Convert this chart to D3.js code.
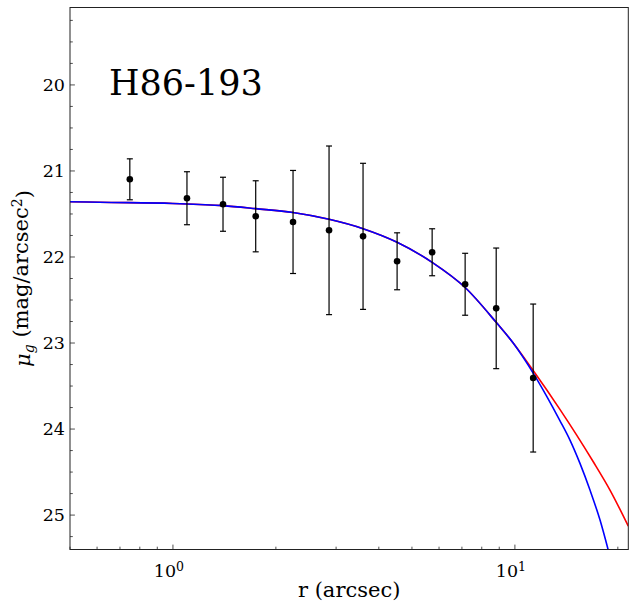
<!DOCTYPE html>
<html>
<head>
<meta charset="utf-8">
<script src="https://cdn.jsdelivr.net/npm/d3@7"></script>
<style>
  body { margin: 0; background: #fff; }
  svg text { font-family: "DejaVu Serif", serif; fill: #000; }
</style>
</head>
<body>
<div id="chart"></div>
<script>
// measured profile points
var radius = [0.748, 1.099, 1.401, 1.746, 2.245, 2.861, 3.597, 4.524, 5.728, 7.153, 8.817, 11.31];
var mu     = [21.097, 21.317, 21.387, 21.527, 21.593, 21.690, 21.760, 22.050, 21.945, 22.317, 22.597, 23.407];
var muErr  = [0.238, 0.308, 0.314, 0.413, 0.599, 0.980, 0.849, 0.331, 0.273, 0.360, 0.701, 0.860];

// fitted model curves
var redR  = [0.499, 0.610, 1.0, 1.401, 1.746, 2.245, 2.861, 3.597, 4.524, 5.728, 7.153, 8.80, 9.886, 11.31, 13.54, 15.16, 16.95, 18.97, 21.46];
var redMu = [21.357, 21.364, 21.378, 21.403, 21.438, 21.483, 21.562, 21.671, 21.829, 22.062, 22.355, 22.756, 23.000, 23.320, 23.771, 24.070, 24.380, 24.709, 25.128];
var blueR  = [0.499, 0.610, 1.0, 1.401, 1.746, 2.245, 2.861, 3.597, 4.524, 5.728, 7.153, 8.80, 9.886, 11.31, 12.38, 13.54, 14.49, 15.50, 16.58, 17.74, 18.75];
var blueMu = [21.357, 21.364, 21.378, 21.403, 21.438, 21.483, 21.562, 21.671, 21.829, 22.062, 22.355, 22.756, 23.000, 23.349, 23.616, 23.901, 24.128, 24.399, 24.709, 25.058, 25.407];

var yTicks = [20, 21, 22, 23, 24, 25];
var xMajor = [1, 10];
var titleText = "H86-193";

var W = 634, H = 608;
var pL = 70, pR = 628.3, pT = 7.5, pB = 549.5;

var svg = d3.select("#chart").append("svg")
  .attr("width", W)
  .attr("height", H)

var x = d3.scaleLog().domain([0.5, 21.46]).range([pL, pR])
var y = d3.scaleLinear().domain([19.1, 25.4]).range([pT, pB])

svg.append("clipPath").attr("id", "clip")
  .append("rect")
  .attr("x", pL).attr("y", pT)
  .attr("width", pR - pL).attr("height", pB - pT)

// y ticks (inward), major + minor every 0.25
var yMinor = d3.range(19.25, 25.4, 0.25).filter(function(v){ return Math.abs(v - Math.round(v)) > 0.01 })
svg.append("g").selectAll("line").data(yMinor).enter().append("line")
  .attr("x1", pL).attr("x2", pL + 2.8)
  .attr("y1", function(d){ return y(d) }).attr("y2", function(d){ return y(d) })
  .attr("stroke", "#222").attr("stroke-width", 0.8)
svg.append("g").selectAll("line").data(yTicks).enter().append("line")
  .attr("x1", pL).attr("x2", pL + 4.9)
  .attr("y1", function(d){ return y(d) }).attr("y2", function(d){ return y(d) })
  .attr("stroke", "#222").attr("stroke-width", 0.8)
svg.append("g").selectAll("text").data(yTicks).enter().append("text")
  .attr("x", pL - 5)
  .attr("y", function(d){ return y(d) })
  .attr("dy", "0.36em")
  .attr("text-anchor", "end")
  .style("font-size", "17.5px")
  .text(function(d){ return d })

// x ticks (log)
var xMinor = x.ticks().filter(function(v){ return xMajor.indexOf(v) < 0 })
svg.append("g").selectAll("line").data(xMinor).enter().append("line")
  .attr("x1", function(d){ return x(d) }).attr("x2", function(d){ return x(d) })
  .attr("y1", pB).attr("y2", pB - 2.8)
  .attr("stroke", "#222").attr("stroke-width", 0.8)
svg.append("g").selectAll("line").data(xMajor).enter().append("line")
  .attr("x1", function(d){ return x(d) }).attr("x2", function(d){ return x(d) })
  .attr("y1", pB).attr("y2", pB - 4.9)
  .attr("stroke", "#222").attr("stroke-width", 0.8)
var xl = svg.append("g").selectAll("text").data(xMajor).enter().append("text")
  .attr("x", function(d){ return x(d) - 4 })
  .attr("y", pB + 27)
  .attr("text-anchor", "middle")
  .style("font-size", "17.5px")
xl.append("tspan").text("10")
xl.append("tspan").attr("dy", "-0.45em").style("font-size", "12.5px")
  .text(function(d){ return Math.round(Math.log10(d)) })

// model curves
var line = d3.line()
  .x(function(d){ return x(d[0]) })
  .y(function(d){ return y(d[1]) })
  .curve(d3.curveMonotoneX)

var curves = svg.append("g").attr("clip-path", "url(#clip)")
curves.append("path")
  .datum(d3.zip(redR, redMu))
  .attr("d", line)
  .attr("fill", "none").attr("stroke", "#ff0000").attr("stroke-width", 1.6)
curves.append("path")
  .datum(d3.zip(blueR, blueMu))
  .attr("d", line)
  .attr("fill", "none").attr("stroke", "#0000ff").attr("stroke-width", 1.6)

// data points with error bars
var pts = radius.map(function(r, i){ return {r: r, mu: mu[i], e: muErr[i]} })
var eb = svg.append("g")
eb.selectAll(".bar").data(pts).enter().append("line")
  .attr("x1", function(d){ return x(d.r) }).attr("x2", function(d){ return x(d.r) })
  .attr("y1", function(d){ return y(d.mu - d.e) }).attr("y2", function(d){ return y(d.mu + d.e) })
  .attr("stroke", "#000").attr("stroke-width", 1.2)
eb.selectAll(".capT").data(pts).enter().append("line")
  .attr("x1", function(d){ return x(d.r) - 3 }).attr("x2", function(d){ return x(d.r) + 3 })
  .attr("y1", function(d){ return y(d.mu - d.e) }).attr("y2", function(d){ return y(d.mu - d.e) })
  .attr("stroke", "#000").attr("stroke-width", 1.2)
eb.selectAll(".capB").data(pts).enter().append("line")
  .attr("x1", function(d){ return x(d.r) - 3 }).attr("x2", function(d){ return x(d.r) + 3 })
  .attr("y1", function(d){ return y(d.mu + d.e) }).attr("y2", function(d){ return y(d.mu + d.e) })
  .attr("stroke", "#000").attr("stroke-width", 1.2)
eb.selectAll("circle").data(pts).enter().append("circle")
  .attr("cx", function(d){ return x(d.r) })
  .attr("cy", function(d){ return y(d.mu) })
  .attr("r", 3.3)
  .attr("fill", "#000")

// frame
svg.append("rect")
  .attr("x", pL).attr("y", pT)
  .attr("width", pR - pL).attr("height", pB - pT)
  .attr("fill", "none").attr("stroke", "#222").attr("stroke-width", 1)

// title inside plot
svg.append("text")
  .attr("x", 109).attr("y", 95)
  .style("font-size", "35px")
  .text(titleText)

// axis labels
svg.append("text")
  .attr("x", (pL + pR) / 2).attr("y", 597)
  .attr("text-anchor", "middle")
  .style("font-size", "21px")
  .text("r (arcsec)")

var yl = svg.append("text")
  .attr("transform", "translate(30," + ((pT + pB) / 2) + ") rotate(-90)")
  .attr("text-anchor", "middle")
  .style("font-size", "21px")
yl.append("tspan").style("font-style", "italic").text("μ")
yl.append("tspan").attr("dy", "0.3em").style("font-size", "14px").style("font-style", "italic").text("g")
yl.append("tspan").attr("dy", "-0.3em").text(" (mag/arcsec")
yl.append("tspan").attr("dy", "-0.45em").style("font-size", "14px").text("2")
yl.append("tspan").attr("dy", "0.45em").text(")")
</script>
</body>
</html>
